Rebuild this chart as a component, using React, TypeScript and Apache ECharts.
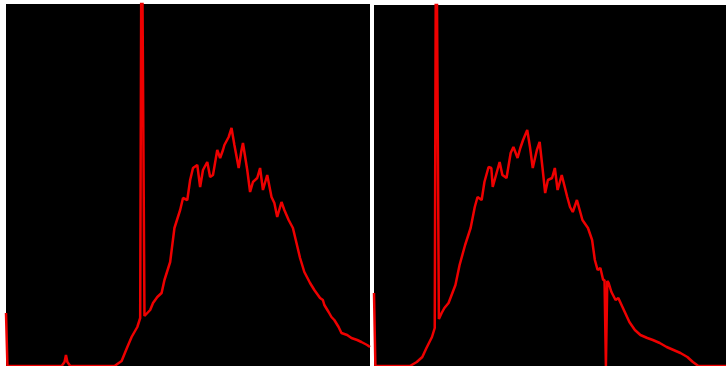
import React, { useEffect, useRef } from "react";
import * as echarts from "echarts";

// Histogram bins (0..255) and pixel counts
const leftBins = [
  0, 1, 39, 41, 42, 43, 45, 76, 78, 81, 85, 88, 92, 94, 95, 96, 97, 99, 101,
  103, 106, 109, 111, 115, 118, 122, 124, 127, 129, 131, 134, 136, 138, 141, 143,
  145, 148, 150, 152, 153, 156, 158, 160, 163, 165, 166, 169, 171, 173, 176, 178,
  180, 183, 186, 188, 190, 193, 195, 198, 201, 203, 206, 209, 213, 216, 220, 222,
  223, 226, 228, 230, 233, 235, 239, 242, 246, 249, 253, 255,
];
const leftCounts = [
  530, 0, 0, 40, 110, 40, 0, 0, 20, 50, 190, 290, 390, 480, 5000, 2830, 500,
  530, 560, 630, 690, 730, 860, 1040, 1380, 1560, 1680, 1660, 1860, 1980, 2010,
  1790, 1960, 2040, 1890, 1910, 2160, 2080, 2160, 2210, 2290, 2380, 2210, 1980,
  2160, 2230, 1960, 1740, 1840, 1880, 1980, 1760, 1910, 1690, 1630, 1490, 1640,
  1560, 1460, 1380, 1260, 1080, 940, 830, 760, 680, 660, 610, 540, 490, 460, 390,
  330, 310, 280, 260, 240, 210, 190,
];

const rightBins = [
  0, 1, 26, 31, 35, 38, 42, 44, 45, 46, 47, 49, 51, 54, 59, 62, 66, 70, 73, 75,
  78, 80, 83, 85, 86, 89, 91, 93, 96, 99, 101, 104, 106, 108, 111, 113, 115, 118,
  120, 122, 124, 126, 129, 131, 133, 136, 140, 142, 144, 147, 149, 151, 155, 158,
  160, 162, 164, 166, 167, 168, 169, 170, 172, 175, 177, 180, 182, 185, 189, 193,
  198, 202, 207, 212, 217, 222, 227, 231, 235, 255,
];
const rightCounts = [
  730, 0, 0, 40, 90, 180, 290, 380, 5000, 2830, 470, 530, 580, 630, 810, 1010,
  1210, 1380, 1590, 1690, 1660, 1840, 1990, 1980, 1790, 1940, 2040, 1910, 1880,
  2130, 2190, 2080, 2180, 2260, 2360, 2190, 1980, 2160, 2240, 1990, 1730, 1860,
  1880, 1980, 1760, 1910, 1690, 1590, 1540, 1660, 1560, 1460, 1380, 1260, 1060,
  960, 980, 860, 860, 0, 850, 830, 740, 660, 680, 590, 530, 440, 360, 310, 280,
  260, 230, 190, 160, 130, 90, 40, 0, 0,
];

const leftMax = 3620;
const rightMax = 3610;

function pairs(xs: number[], ys: number[]) {
  return xs.map((x, i) => [x, ys[i]]);
}

export default function App() {
  const ref = useRef<HTMLDivElement>(null);
  useEffect(() => {
    if (!ref.current) return;
    const chart = echarts.init(ref.current, undefined, { renderer: "svg" });
    const lineStyle = { color: "#ee0000", width: 2.5 };
    chart.setOption({
      animation: false,
      backgroundColor: "#ffffff",
      grid: [
        { left: 6, top: 4, width: 364, bottom: 0, show: true, backgroundColor: "#000000", borderWidth: 0 },
        { left: 374, top: 5, width: 352, bottom: 0, show: true, backgroundColor: "#000000", borderWidth: 0 },
      ],
      xAxis: [
        { type: "value", gridIndex: 0, min: 0, max: 255, show: false, splitLine: { show: false } },
        { type: "value", gridIndex: 1, min: 0, max: 255, show: false, splitLine: { show: false } },
      ],
      yAxis: [
        { type: "value", gridIndex: 0, min: 0, max: leftMax, show: false, splitLine: { show: false } },
        { type: "value", gridIndex: 1, min: 0, max: rightMax, show: false, splitLine: { show: false } },
      ],
      series: [
        {
          type: "line",
          xAxisIndex: 0,
          yAxisIndex: 0,
          data: pairs(leftBins, leftCounts),
          showSymbol: false,
          clip: true,
          lineStyle,
        },
        {
          type: "line",
          xAxisIndex: 1,
          yAxisIndex: 1,
          data: pairs(rightBins, rightCounts),
          showSymbol: false,
          clip: true,
          lineStyle,
        },
      ],
    });
    return () => chart.dispose();
  }, []);
  return (
    <div
      ref={ref}
      style={{ position: "absolute", left: 0, top: 0, width: 726, height: 366, background: "#fff" }}
    />
  );
}
